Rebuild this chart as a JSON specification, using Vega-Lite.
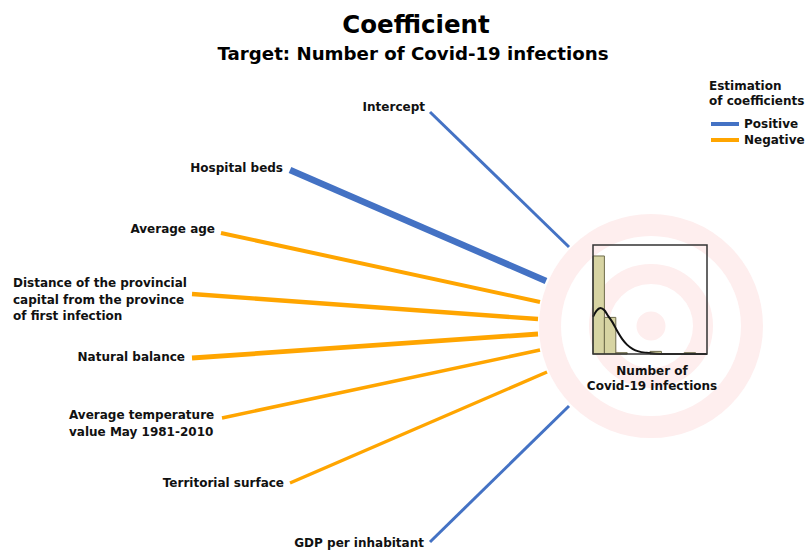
{
  "$schema": "https://vega.github.io/schema/vega-lite/v6.json",
  "width": 809,
  "height": 552,
  "padding": 0,
  "autosize": {"type": "fit", "contains": "padding"},
  "background": "white",
  "config": {"view": {"stroke": null}, "font": "DejaVu Sans"},
  "datasets": {
    "coefficients": [
      {"variable": "Intercept", "sign": "Positive", "magnitude": 3, "x": 430, "y": 112, "x2": 569, "y2": 247, "lx": 425, "ly": 107, "multiline": false},
      {"variable": "Hospital beds", "sign": "Positive", "magnitude": 6.5, "x": 290, "y": 170, "x2": 546, "y2": 281, "lx": 283, "ly": 168, "multiline": false},
      {"variable": "Average age", "sign": "Negative", "magnitude": 4, "x": 221, "y": 233, "x2": 540, "y2": 302, "lx": 215, "ly": 229, "multiline": false},
      {"variable": "Distance of the provincial\ncapital from the province\nof first infection", "sign": "Negative", "magnitude": 4.4, "x": 192, "y": 294, "x2": 538, "y2": 319, "lx": 13, "ly": 283, "multiline": true},
      {"variable": "Natural balance", "sign": "Negative", "magnitude": 4.8, "x": 192, "y": 358, "x2": 538, "y2": 334, "lx": 185, "ly": 357, "multiline": false},
      {"variable": "Average temperature\nvalue May 1981-2010", "sign": "Negative", "magnitude": 3.5, "x": 222, "y": 418, "x2": 540, "y2": 350, "lx": 69, "ly": 415, "multiline": true},
      {"variable": "Territorial surface", "sign": "Negative", "magnitude": 3.4, "x": 290, "y": 483, "x2": 547, "y2": 372, "lx": 284, "ly": 483, "multiline": false},
      {"variable": "GDP per inhabitant", "sign": "Positive", "magnitude": 3, "x": 430, "y": 542, "x2": 569, "y2": 406, "lx": 424, "ly": 543, "multiline": false}
    ],
    "rings": [
      {"ring": "outer", "x": 651, "y": 326, "r": 101, "w": 22},
      {"ring": "middle", "x": 651, "y": 326, "r": 52, "w": 20},
      {"ring": "centre", "x": 651, "y": 326, "r": 7.25, "w": 14.5}
    ],
    "histogram": [
      {"bin_start": 0, "bin_end": 1, "count": 75},
      {"bin_start": 1, "bin_end": 2, "count": 28},
      {"bin_start": 2, "bin_end": 3, "count": 1},
      {"bin_start": 3, "bin_end": 4, "count": 0},
      {"bin_start": 4, "bin_end": 5, "count": 0},
      {"bin_start": 5, "bin_end": 6, "count": 2},
      {"bin_start": 6, "bin_end": 7, "count": 0},
      {"bin_start": 7, "bin_end": 8, "count": 0},
      {"bin_start": 8, "bin_end": 9, "count": 1},
      {"bin_start": 9, "bin_end": 10, "count": 0}
    ],
    "density": [
      {"value": 0, "density": 28.5},
      {"value": 0.3, "density": 33},
      {"value": 0.65, "density": 35.2},
      {"value": 1.0, "density": 33.5},
      {"value": 1.3, "density": 29.5},
      {"value": 1.73, "density": 24},
      {"value": 2.1, "density": 18},
      {"value": 2.6, "density": 11},
      {"value": 3.0, "density": 7},
      {"value": 3.5, "density": 3.8},
      {"value": 4.0, "density": 2.0},
      {"value": 4.7, "density": 0.9},
      {"value": 5.5, "density": 0.25},
      {"value": 6.5, "density": 0.05},
      {"value": 8, "density": 0},
      {"value": 10, "density": 0}
    ]
  },
  "layer": [
    {
      "encoding": {
        "x": {"field": "x", "type": "quantitative", "scale": {"domain": [0, 809], "nice": false, "zero": false}, "axis": null},
        "y": {"field": "y", "type": "quantitative", "scale": {"domain": [0, 552], "nice": false, "zero": false, "reverse": true}, "axis": null}
      },
      "layer": [
        {
          "data": {"name": "rings"},
          "mark": {"type": "point", "shape": "circle", "filled": false, "stroke": "#FEEEEE", "opacity": 1},
          "encoding": {
            "size": {"field": "r", "type": "quantitative", "scale": {"type": "pow", "exponent": 2, "domain": [0, 100], "range": [0, 40000]}, "legend": null},
            "strokeWidth": {"field": "w", "type": "quantitative", "scale": {"domain": [0, 30], "range": [0, 30]}, "legend": null}
          }
        },
        {
          "data": {"name": "coefficients"},
          "mark": {"type": "rule", "strokeCap": "butt"},
          "encoding": {
            "x2": {"field": "x2"},
            "y2": {"field": "y2"},
            "color": {
              "field": "sign", "type": "nominal",
              "scale": {"domain": ["Positive", "Negative"], "range": ["#4472C4", "#FFA500"]},
              "legend": {
                "title": ["Estimation", "of coefficients"],
                "orient": "none", "legendX": 709, "legendY": 81,
                "symbolType": "stroke", "symbolSize": 784, "symbolStrokeWidth": 4,
                "clipHeight": 14,
                "labelFont": "DejaVu Sans", "labelFontWeight": "bold", "labelFontSize": 12, "labelColor": "#111111", "labelOffset": 3,
                "titleFont": "DejaVu Sans", "titleFontWeight": "bold", "titleFontSize": 12, "titleColor": "#111111", "titleLineHeight": 15,
                "rowPadding": 2, "titlePadding": 9
              }
            },
            "strokeWidth": {"field": "magnitude", "type": "quantitative", "scale": {"domain": [0, 30], "range": [0, 30]}, "legend": null}
          }
        },
        {
          "data": {"name": "coefficients"},
          "transform": [{"filter": "!datum.multiline"}],
          "mark": {"type": "text", "align": "right", "baseline": "middle", "font": "DejaVu Sans", "fontWeight": "bold", "fontSize": 12, "color": "#111111", "lineBreak": "\n"},
          "encoding": {
            "x": {"field": "lx", "type": "quantitative"},
            "y": {"field": "ly", "type": "quantitative"},
            "text": {"field": "variable"}
          }
        },
        {
          "data": {"name": "coefficients"},
          "transform": [{"filter": "datum.multiline"}],
          "mark": {"type": "text", "align": "left", "baseline": "middle", "font": "DejaVu Sans", "fontWeight": "bold", "fontSize": 12, "color": "#111111", "lineBreak": "\n", "lineHeight": 16.5},
          "encoding": {
            "x": {"field": "lx", "type": "quantitative"},
            "y": {"field": "ly", "type": "quantitative"},
            "text": {"field": "variable"}
          }
        },
        {
          "data": {"values": [{"label": "Number of\nCovid-19 infections", "x": 652, "y": 371}]},
          "mark": {"type": "text", "align": "center", "baseline": "middle", "font": "DejaVu Sans", "fontWeight": "bold", "fontSize": 12, "color": "#111111", "lineBreak": "\n", "lineHeight": 15},
          "encoding": {"text": {"field": "label"}}
        },
        {
          "data": {"values": [{"label": "Coefficient", "x": 416, "y": 33}]},
          "mark": {"type": "text", "align": "center", "baseline": "alphabetic", "font": "DejaVu Sans", "fontWeight": "bold", "fontSize": 24.5, "color": "#000000"},
          "encoding": {"text": {"field": "label"}}
        },
        {
          "data": {"values": [{"label": "Target: Number of Covid-19 infections", "x": 413, "y": 60}]},
          "mark": {"type": "text", "align": "center", "baseline": "alphabetic", "font": "DejaVu Sans", "fontWeight": "bold", "fontSize": 18.2, "color": "#000000"},
          "encoding": {"text": {"field": "label"}}
        }
      ]
    },
    {
      "layer": [
        {
          "data": {"name": "histogram"},
          "transform": [{"filter": "datum.count > 0"}],
          "mark": {"type": "rect", "fill": "#D7D4A3", "stroke": "#6E6C4C", "strokeWidth": 1},
          "encoding": {
            "x": {"field": "bin_start", "type": "quantitative", "scale": {"domain": [0, 10], "range": [593, 707], "nice": false, "zero": false}, "axis": null},
            "x2": {"field": "bin_end"},
            "y": {"field": "count", "type": "quantitative", "scale": {"domain": [0, 83.4], "range": [354, 245], "nice": false, "zero": false}, "axis": null},
            "y2": {"datum": 0}
          }
        },
        {
          "data": {"name": "density"},
          "mark": {"type": "line", "color": "#111111", "strokeWidth": 2, "interpolate": "monotone"},
          "encoding": {
            "x": {"field": "value", "type": "quantitative", "scale": {"domain": [0, 10], "range": [593, 707], "nice": false, "zero": false}, "axis": null},
            "y": {"field": "density", "type": "quantitative", "scale": {"domain": [0, 83.4], "range": [354, 245], "nice": false, "zero": false}, "axis": null}
          }
        },
        {
          "data": {"values": [{"frame": "histogram box"}]},
          "mark": {"type": "rect", "fill": null, "fillOpacity": 0, "stroke": "#333333", "strokeWidth": 1.5},
          "encoding": {
            "x": {"datum": 0, "type": "quantitative", "scale": {"domain": [0, 10], "range": [593, 707], "nice": false, "zero": false}, "axis": null},
            "x2": {"datum": 10},
            "y": {"datum": 0, "type": "quantitative", "scale": {"domain": [0, 83.4], "range": [354, 245], "nice": false, "zero": false}, "axis": null},
            "y2": {"datum": 83.4}
          }
        }
      ]
    }
  ],
  "resolve": {"scale": {"x": "independent", "y": "independent"}}
}
